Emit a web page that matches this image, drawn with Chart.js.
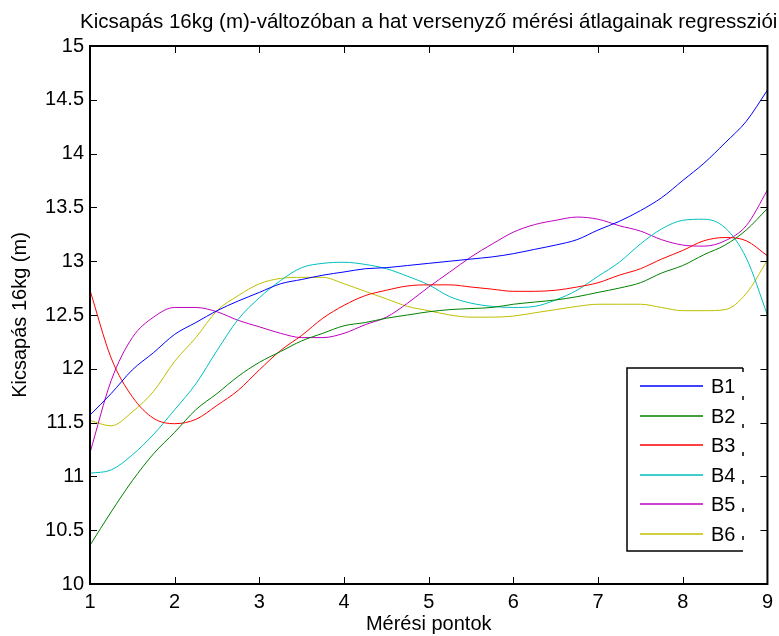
<!DOCTYPE html>
<html>
<head>
<meta charset="utf-8">
<script src="https://cdn.jsdelivr.net/npm/chart.js@4"></script>
<style>
  html, body { margin: 0; padding: 0; background: #fff; }
  #wrap { width: 779px; height: 636px; }
</style>
</head>
<body>
<div id="wrap"><canvas id="chart" width="779" height="636"></canvas></div>
<script>
// mérési pontok (x)
const meresiPontok = [1, 1.25, 1.5, 1.75, 2, 2.25, 2.5, 2.75, 3, 3.25, 3.5, 3.75, 4, 4.25, 4.5, 4.75,
    5, 5.25, 5.5, 5.75, 6, 6.25, 6.5, 6.75, 7, 7.25, 7.5, 7.75, 8, 8.25, 8.5, 8.75, 9];

// regressziós görbék versenyzőnként
const b1 = [11.57, 11.77, 11.99, 12.15, 12.32, 12.43, 12.54, 12.63, 12.71, 12.79, 12.83, 12.87, 12.90, 12.93, 12.94, 12.96,
    12.98, 13.00, 13.02, 13.04, 13.07, 13.11, 13.15, 13.20, 13.29, 13.37, 13.47, 13.59, 13.75, 13.91, 14.10, 14.30, 14.59];
const b2 = [10.36, 10.67, 10.96, 11.21, 11.41, 11.62, 11.77, 11.93, 12.06, 12.16, 12.26, 12.33, 12.40, 12.43, 12.47, 12.50,
    12.53, 12.55, 12.56, 12.57, 12.60, 12.62, 12.64, 12.67, 12.71, 12.75, 12.80, 12.89, 12.96, 13.06, 13.15, 13.29, 13.49];
const b3 = [12.73, 12.10, 11.74, 11.54, 11.49, 11.53, 11.66, 11.80, 11.99, 12.17, 12.31, 12.47, 12.59, 12.68, 12.73, 12.77,
    12.78, 12.78, 12.76, 12.74, 12.72, 12.72, 12.73, 12.76, 12.80, 12.87, 12.93, 13.02, 13.10, 13.19, 13.22, 13.19, 13.05];
const b4 = [11.03, 11.06, 11.20, 11.39, 11.62, 11.86, 12.17, 12.46, 12.66, 12.82, 12.94, 12.98, 12.99, 12.97, 12.93, 12.86,
    12.78, 12.67, 12.61, 12.58, 12.57, 12.58, 12.64, 12.73, 12.86, 12.99, 13.16, 13.30, 13.38, 13.39, 13.31, 13.03, 12.50];
const b5 = [11.22, 11.89, 12.29, 12.48, 12.57, 12.57, 12.53, 12.45, 12.39, 12.33, 12.29, 12.29, 12.33, 12.41, 12.48, 12.61,
    12.76, 12.90, 13.04, 13.16, 13.27, 13.34, 13.38, 13.41, 13.39, 13.33, 13.28, 13.20, 13.15, 13.14, 13.19, 13.33, 13.66];
const b6 = [11.52, 11.47, 11.60, 11.79, 12.07, 12.29, 12.54, 12.68, 12.79, 12.84, 12.85, 12.85, 12.79, 12.72, 12.65, 12.58,
    12.54, 12.50, 12.48, 12.48, 12.49, 12.52, 12.55, 12.58, 12.60, 12.60, 12.60, 12.57, 12.54, 12.54, 12.55, 12.70, 13.01];

const nevek = ['B1', 'B2', 'B3', 'B4', 'B5', 'B6'];
const sorozatok = [b1, b2, b3, b4, b5, b6];
const szinek = ['#0000ff', '#008000', '#ff0000', '#00bfbf', '#bf00bf', '#bfbf00'];

const cim = 'Kicsapás 16kg (m)-változóban a hat versenyző mérési átlagainak regressziói';
const betu = '"Liberation Sans", Arial, sans-serif';

// keret, befelé mutató osztásjelek, cím és jelmagyarázat
const keretPlugin = {
    id: 'keret',
    afterDatasetsDraw(chart) {
        const ctx = chart.ctx;
        const a = chart.chartArea;
        const xs = chart.scales.x, ys = chart.scales.y;
        const hossz = 7;
        ctx.save();
        ctx.strokeStyle = '#000';
        ctx.lineWidth = 1;
        ctx.beginPath();
        xs.ticks.forEach(t => {
            const px = Math.round(xs.getPixelForValue(t.value)) + 0.5;
            ctx.moveTo(px, a.bottom); ctx.lineTo(px, a.bottom - hossz);
            ctx.moveTo(px, a.top); ctx.lineTo(px, a.top + hossz);
        });
        ys.ticks.forEach(t => {
            const py = Math.round(ys.getPixelForValue(t.value)) + 0.5;
            ctx.moveTo(a.left, py); ctx.lineTo(a.left + hossz, py);
            ctx.moveTo(a.right, py); ctx.lineTo(a.right - hossz, py);
        });
        ctx.stroke();
        ctx.lineWidth = 2;
        ctx.strokeRect(a.left, a.top, a.right - a.left, a.bottom - a.top);

        // cím a rajzterület fölött középen
        ctx.fillStyle = '#000';
        ctx.font = '20.5px ' + betu;
        ctx.textAlign = 'center';
        ctx.textBaseline = 'middle';
        ctx.fillText(cim, (a.left + a.right) / 2, 22);

        // jelmagyarázat
        const lx = 627, ly = 368, lw = 116, lh = 183;
        ctx.fillStyle = '#fff';
        ctx.fillRect(lx, ly, lw, lh);
        ctx.strokeStyle = '#000';
        ctx.lineWidth = 1.5;
        ctx.beginPath();
        ctx.moveTo(lx + lw, ly); ctx.lineTo(lx, ly); ctx.lineTo(lx, ly + lh); ctx.lineTo(lx + lw, ly + lh);
        ctx.stroke();
        ctx.setLineDash([4, 24]);
        ctx.beginPath();
        ctx.moveTo(lx + lw, ly); ctx.lineTo(lx + lw, ly + lh);
        ctx.stroke();
        ctx.setLineDash([]);
        ctx.font = '20px ' + betu;
        ctx.textAlign = 'left';
        chart.data.datasets.forEach((ds, i) => {
            const y = Math.round(ly + 18 + i * 29.5);
            ctx.strokeStyle = szinek[i];
            ctx.lineWidth = 1.5;
            ctx.beginPath();
            ctx.moveTo(lx + 13, y); ctx.lineTo(lx + 76, y);
            ctx.stroke();
            ctx.fillStyle = '#000';
            ctx.fillText(ds.label, lx + 84, y + 1);
        });
        ctx.restore();
    }
};

new Chart(document.getElementById('chart'), {
    type: 'line',
    data: {
        datasets: sorozatok.map((s, i) => ({
            label: nevek[i],
            data: s.map((v, j) => ({ x: meresiPontok[j], y: v })),
            borderColor: szinek[i],
            borderWidth: 1,
            pointRadius: 0,
            fill: false,
            cubicInterpolationMode: 'monotone'
        }))
    },
    options: {
        responsive: false,
        animation: false,
        layout: { padding: { top: 46, right: 8, left: 0, bottom: 0 } },
        plugins: {
            legend: { display: false },
            title: { display: false },
            tooltip: { enabled: false }
        },
        scales: {
            x: {
                type: 'linear',
                min: 1, max: 9,
                grid: { display: false, drawTicks: false, tickLength: 0 },
                border: { display: false },
                ticks: { stepSize: 1, color: '#000', font: { family: betu, size: 20 }, padding: 6, autoSkip: false, maxRotation: 0 },
                title: { display: true, text: 'Mérési pontok', color: '#000', font: { family: betu, size: 20 }, padding: 0 },
                afterFit: s => { s.height = 52; }
            },
            y: {
                min: 10, max: 15,
                grid: { display: false, drawTicks: false, tickLength: 0 },
                border: { display: false },
                ticks: {
                    stepSize: 0.5, color: '#000', font: { family: betu, size: 20 }, padding: 6, autoSkip: false,
                    callback: v => String(v)
                },
                title: { display: true, text: 'Kicsapás 16kg (m)', color: '#000', font: { family: betu, size: 20 }, padding: { top: 8, bottom: 0 } },
                afterFit: s => { s.width = 90; }
            }
        }
    },
    plugins: [keretPlugin]
});
</script>
</body>
</html>
